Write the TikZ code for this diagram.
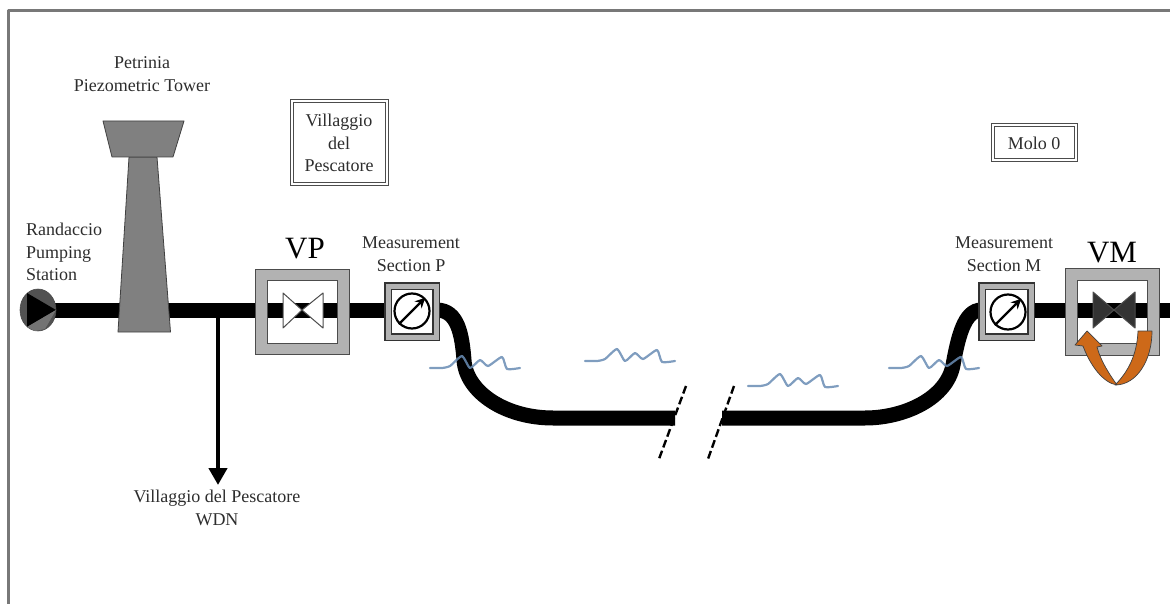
\documentclass[tikz,border=0pt]{standalone}
\usepackage{fontspec}
\setmainfont{Liberation Serif}
\usetikzlibrary{arrows.meta,backgrounds,shapes.geometric}
\definecolor{framegray}{RGB}{120,120,120}
\definecolor{towergray}{RGB}{128,128,128}
\definecolor{ringgray}{RGB}{178,178,178}
\definecolor{wavecol}{RGB}{105,140,180}
\definecolor{orangeband}{RGB}{205,105,25}
\definecolor{labelcol}{RGB}{45,45,45}
\tikzset{
  lab/.style={font=\fontsize{18}{22.5}\selectfont,text=labelcol,align=center,inner sep=0pt},
  biglab/.style={font=\fontsize{31}{31}\selectfont,text=black,inner sep=0pt},
  pipe/.style={line width=15pt,black},
  placebox/.style={draw=black!70,line width=1pt,double=white,double distance=2pt,fill=white,inner sep=0pt},
  ring/.style={draw=black!70,line width=1pt,double=ringgray,double distance=10.4pt,inner sep=0pt},
  gaugering/.style={draw=black!80,line width=1.1pt,double=ringgray,double distance=5pt,fill=white,inner sep=0pt},
  gaugeface/.style={circle,draw=black,line width=2.2pt,minimum size=35pt,inner sep=0pt},
  gaugearrow/.style={line width=2.2pt,-{Stealth[length=10pt,width=10pt]}},
  valvetri/.style={draw=black!70,line width=1pt,line join=round},
  wave/.style={wavecol,line width=2.2pt,line cap=round,line join=round,opacity=.85},
  breakline/.style={black,line width=2.4pt,dash pattern=on 8pt off 3.5pt},
  band/.style={fill=orangeband,draw=black!75,line width=.7pt,line join=round}
}
\newcommand{\wavemark}[2]{\draw[wave,shift={(#1,#2)}] plot[smooth,tension=.35] coordinates {(0,0) (12,0) (20,-2) (32,-12) (40,0) (50,-8) (58,-2) (72,-11) (77,1) (90,0)};}
\begin{document}
\begin{tikzpicture}[x=1pt,y=-1pt]
\useasboundingbox (0,0) rectangle (1170,604);
\draw[framegray,line width=2.6pt,line join=round] (8.5,604) -- (8.5,10.5) -- (1170,10.5);

% key nodes
\node[ellipse,draw=black!70,line width=.6pt,fill=black!68,minimum width=36pt,minimum height=42pt,inner sep=0pt] (pump) at (38,310) {};
\node[draw=none,minimum size=0pt,inner sep=0pt] (branch) at (218,310) {};
\coordinate (wdn) at (218,485);
\node[ring,minimum width=82pt,minimum height=74pt] (vp) at (302.5,312) {};
\node[ring,minimum width=82pt,minimum height=75pt] (vm) at (1112.5,312) {};
\node[gaugering,minimum width=48pt,minimum height=51pt] (msp) at (412,311.5) {};
\node[gaugering,minimum width=49pt,minimum height=51pt] (msm) at (1006.5,311.5) {};
\node[gaugeface] (gp) at (412,311) {};
\node[gaugeface] (gm) at (1008,312) {};
\coordinate (breakL) at (675,418);
\coordinate (breakR) at (722,418);
\coordinate (pipeend) at (1170,310);
\coordinate (bl1) at (686,386);
\coordinate (bl2) at (659,459);
\coordinate (br1) at (734,386);
\coordinate (br2) at (708,459);

% pipes
\begin{scope}[on background layer]
\draw[pipe] (pump.center) -- (branch.center) -- (msp.center |- branch.center);
\draw[pipe] (msp.center |- branch.center) -- (msp.east |- branch.center) .. controls (458,310) and (462,335) .. (464,360) .. controls (466,392) and (505,418) .. (553,418) -- (breakL);
\draw[pipe] (breakR) -- (865,418) .. controls (905,418) and (947,398) .. (953,365) .. controls (958,338) and (964,310) .. (msm.west |- pipeend);
\draw[pipe] (msm.center |- pipeend) -- (pipeend);
\end{scope}

% pump rotor
\fill[black] (27,293) -- (56,310) -- (27,327) -- cycle;
\fill[black!55] (27,327) -- (56,310) -- (45,329) -- (35,331) -- cycle;

% branch
\draw[black,line width=4.5pt,-{Triangle[length=17pt,width=18pt]}] (branch.center) -- (wdn);

% tower
\draw[fill=towergray,draw=black!75,line width=.8pt,line join=round] (129,157) -- (157,157) -- (170.5,332) -- (118,332) -- cycle;
\draw[fill=towergray,draw=black!75,line width=.8pt,line join=round] (103,121) -- (184,121) -- (173,157) -- (112,157) -- cycle;

% valves
\draw[valvetri,fill=white] (283,293) -- (302,310) -- (283,328) -- cycle;
\draw[valvetri,fill=white] (323,293) -- (302,310) -- (323,328) -- cycle;
\draw[valvetri,fill=black!80] (1093,292) -- (1114,310) -- (1093,328) -- cycle;
\draw[valvetri,fill=black!80] (1135,292) -- (1114,310) -- (1135,328) -- cycle;

% gauges
\draw[gaugearrow] (gp.south west) -- (gp.north east);
\draw[gaugearrow] (gm.south west) -- (gm.north east);

% waves
\wavemark{430}{368}
\wavemark{585}{361}
\wavemark{748}{386}
\wavemark{889}{368}

% break marks
\draw[breakline] (bl1) -- (bl2);
\draw[breakline] (br1) -- (br2);

% turning arrow on VM
\draw[band] (1152,331) -- (1138,331) .. controls (1137,355) and (1128,372) .. (1115,385) .. controls (1137,385) and (1152,360) .. cycle;
\draw[band] (1117,385) .. controls (1103,383) and (1090,365) .. (1083,346) -- (1075,345) -- (1087,331) -- (1102,346) -- (1097,347) .. controls (1101,362) and (1110,375) .. (1117,385) -- cycle;

% labels
\node[lab] (petrinia) at (142,74) {Petrinia\\Piezometric Tower};
\node[lab,align=left,anchor=west] (randaccio) at (26,252) {Randaccio\\Pumping\\Station};
\node[placebox,minimum width=95pt,minimum height=83pt,lab] (vdp) at (339,143) {Villaggio\\del\\Pescatore};
\node[placebox,minimum width=83pt,minimum height=35pt,lab] (molo) at (1034,143) {Molo 0};
\node[biglab] (vplab) at (305,249) {VP};
\node[biglab] (vmlab) at (1112,253) {VM};
\node[lab] (msplab) at (411,254) {Measurement\\Section P};
\node[lab] (msmlab) at (1004,254) {Measurement\\Section M};
\node[lab] (wdnlab) at (217,508) {Villaggio del Pescatore\\WDN};
\end{tikzpicture}
\end{document}
